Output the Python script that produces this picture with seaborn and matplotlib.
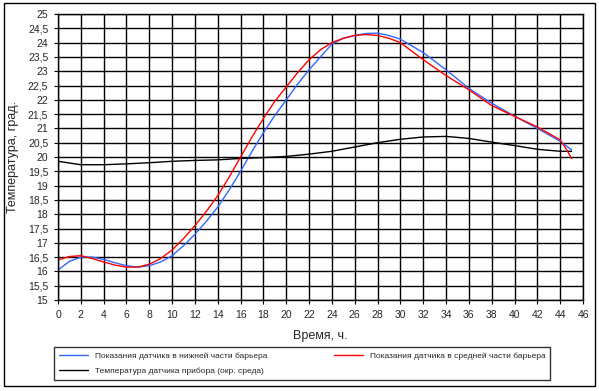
import matplotlib
matplotlib.use("Agg")
import matplotlib.pyplot as plt
import seaborn as sns
import pandas as pd
from matplotlib.patches import Rectangle

# Data
t_blue = [0, 1, 2, 3, 4, 5, 6, 7, 8, 9, 10, 11, 12, 13, 14, 15, 16, 17, 18, 19, 20,
          21, 22, 23, 24, 25, 26, 27, 28, 29, 30, 32, 34, 36, 38, 40, 42, 44, 45]
v_blue = [16.05, 16.35, 16.5, 16.5, 16.42, 16.3, 16.2, 16.15, 16.2, 16.33, 16.55, 16.9,
          17.3, 17.75, 18.25, 18.85, 19.5, 20.2, 20.85, 21.45, 22.0, 22.55, 23.05, 23.5,
          23.95, 24.15, 24.25, 24.32, 24.33, 24.25, 24.12, 23.65, 23.05, 22.4, 21.88,
          21.43, 21.0, 20.55, 20.25]
t_red = [0, 1, 2, 3, 4, 5, 6, 7, 8, 9, 10, 11, 12, 13, 14, 15, 16, 17, 18, 19, 20,
         21, 22, 23, 24, 25, 26, 27, 28, 29, 30, 32, 34, 36, 38, 40, 42, 44, 44.5, 45]
v_red = [16.4, 16.52, 16.55, 16.45, 16.33, 16.22, 16.15, 16.15, 16.25, 16.45, 16.75,
         17.15, 17.6, 18.1, 18.65, 19.3, 20.0, 20.7, 21.35, 21.95, 22.45, 22.95, 23.4,
         23.75, 24.0, 24.15, 24.25, 24.28, 24.25, 24.15, 24.0, 23.4, 22.85, 22.35, 21.8,
         21.42, 21.05, 20.6, 20.3, 19.95]
t_black = [0, 2, 4, 6, 8, 10, 12, 14, 16, 18, 20, 22, 24, 26, 28, 30, 32, 34, 36, 38,
           40, 42, 44, 45]
v_black = [19.85, 19.73, 19.73, 19.76, 19.8, 19.85, 19.88, 19.9, 19.95, 19.98, 20.02,
           20.1, 20.2, 20.35, 20.5, 20.62, 20.7, 20.72, 20.65, 20.52, 20.4, 20.27, 20.2, 20.2]

labels = ["Показания датчика в нижней части барьера",
          "Температура датчика прибора (окр. среда)",
          "Показания датчика в средней части барьера"]
colors = ["#3366ff", "#000000", "#ff0000"]

x_ticks = list(range(0, 47, 2))
y_ticks = [15 + 0.5 * i for i in range(21)]

sns.set_style("white")
plt.rcParams['font.family'] = ['Liberation Sans', 'DejaVu Sans']

fig = plt.figure(figsize=(5.99, 3.91), dpi=100)
ax = fig.add_axes([58 / 599, 91 / 391, 525 / 599, 286 / 391])

df = pd.concat([
    pd.DataFrame({"t": t_blue, "v": v_blue, "s": labels[0]}),
    pd.DataFrame({"t": t_black, "v": v_black, "s": labels[1]}),
    pd.DataFrame({"t": t_red, "v": v_red, "s": labels[2]}),
])
sns.lineplot(data=df, x="t", y="v", hue="s", hue_order=labels,
             palette=colors, estimator=None, sort=False, linewidth=1.0, ax=ax)

ax.set_xlim(0, 46)
ax.set_ylim(15, 25)
ax.set_xticks(x_ticks)
ax.set_xticklabels([str(x) for x in x_ticks])
ax.set_yticks(y_ticks)
ax.set_yticklabels([("%g" % y).replace(".", ",") for y in y_ticks])
ax.grid(True, color="black", linewidth=1.0)
ax.set_axisbelow(True)
for sp in ax.spines.values():
    sp.set_color("black")
    sp.set_linewidth(1.0)
ax.tick_params(axis="both", labelsize=7.5, length=3, color="black", direction="out",
               bottom=True, left=True, pad=4)
ax.set_xlabel("Время, ч.", fontsize=9)
ax.set_ylabel("Температура, град.", fontsize=9)
ax.xaxis.set_label_coords(0.5, -0.105)
ax.yaxis.set_label_coords(-0.075, 0.5)

leg = ax.legend(ncol=2, loc="center", bbox_to_anchor=(302 / 599, 1 - 363.5 / 391),
                bbox_transform=fig.transFigure, fontsize=6, frameon=True,
                fancybox=False, edgecolor="black", handlelength=3.5,
                columnspacing=8, borderpad=0.6, labelspacing=0.9)
leg.get_frame().set_linewidth(1.0)

fig.patches.append(Rectangle((4 / 599, 5 / 391), 591 / 599, 383 / 391,
                             transform=fig.transFigure, fill=False,
                             edgecolor="black", linewidth=1.0))

fig.savefig("out.png", dpi=100)
